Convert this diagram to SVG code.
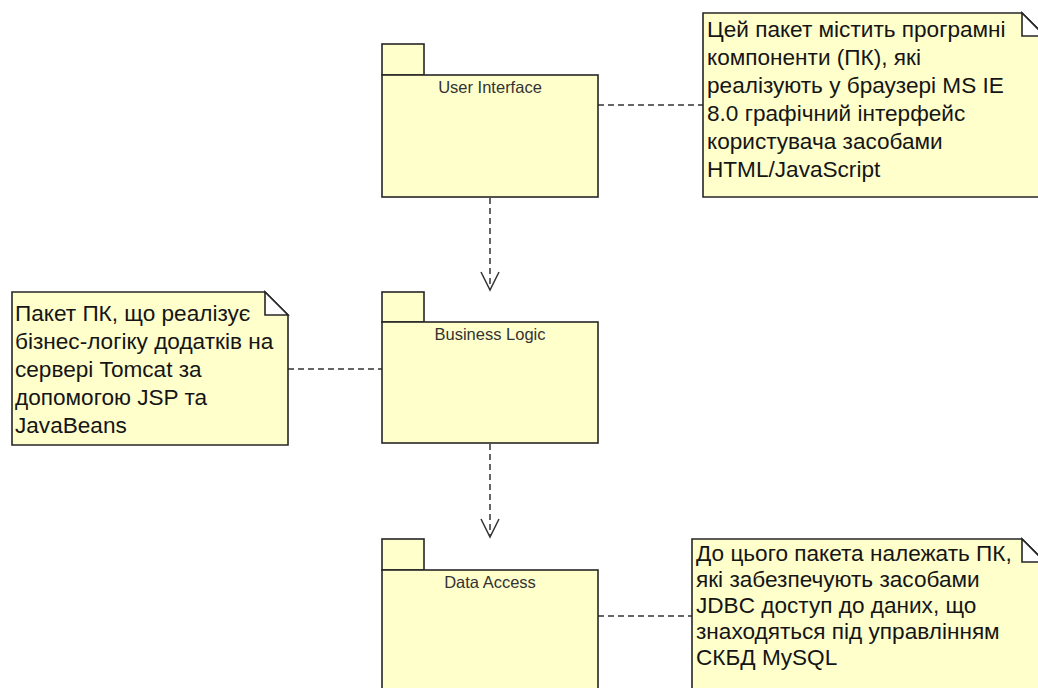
<svg xmlns="http://www.w3.org/2000/svg" width="1038" height="688" viewBox="0 0 1038 688">
  <style>
    .pkg { fill: #ffffcc; stroke: #262626; stroke-width: 1.6; }
    .note { fill: #ffffcc; stroke: #262626; stroke-width: 1.6; }
    .fold { fill: #ffffff; stroke: #262626; stroke-width: 1.6; stroke-linejoin: miter; }
    .pkg-label { font-family: "Liberation Sans", Arial, sans-serif; font-size: 16.5px; fill: #333333; text-anchor: middle; }
    .note-text { font-family: "Liberation Sans", Arial, sans-serif; font-size: 22.6px; fill: #151515; }
    .link { fill: none; stroke: #333333; stroke-width: 1.5; stroke-dasharray: 6 4; }
    .head { fill: none; stroke: #333333; stroke-width: 1.5; }
  </style>

  <rect width="1038" height="688" fill="#ffffff"/>

  <!-- connectors -->
  <g id="connectors">
    <line class="link" x1="598" y1="105" x2="703" y2="105"/>
    <line class="link" x1="288" y1="369" x2="382" y2="369"/>
    <line class="link" x1="598" y1="616" x2="692" y2="616"/>
    <line class="link" x1="490" y1="198" x2="490" y2="289"/>
    <polyline class="head" points="481,272 490,290 499,272"/>
    <line class="link" x1="490" y1="444" x2="490" y2="536"/>
    <polyline class="head" points="481,519 490,537 499,519"/>
  </g>

  <!-- packages -->
  <g id="pkg-user-interface">
    <rect class="pkg" x="382" y="44" width="42" height="31"/>
    <rect class="pkg" x="382" y="75" width="216" height="122"/>
    <text class="pkg-label" x="490" y="93">User Interface</text>
  </g>

  <g id="pkg-business-logic">
    <rect class="pkg" x="382" y="292" width="42" height="30"/>
    <rect class="pkg" x="382" y="322" width="216" height="121"/>
    <text class="pkg-label" x="490" y="340">Business Logic</text>
  </g>

  <g id="pkg-data-access">
    <rect class="pkg" x="382" y="539" width="42" height="31"/>
    <rect class="pkg" x="382" y="570" width="216" height="130"/>
    <text class="pkg-label" x="490" y="588">Data Access</text>
  </g>

  <!-- notes -->
  <g id="note-ui">
    <path class="note" d="M703,13 H1022 L1045,36 V197 H703 Z"/>
    <path class="fold" d="M1022,13 V36 H1045 Z"/>
    <text class="note-text">
      <tspan x="707" y="37">Цей пакет містить програмні</tspan>
      <tspan x="707" y="65">компоненти (ПК), які</tspan>
      <tspan x="707" y="93">реалізують у браузері MS IE</tspan>
      <tspan x="707" y="121">8.0 графічний інтерфейс</tspan>
      <tspan x="707" y="149">користувача засобами</tspan>
      <tspan x="707" y="177">HTML/JavaScript</tspan>
    </text>
  </g>

  <g id="note-bl">
    <path class="note" d="M12,292 H265 L288,315 V445 H12 Z"/>
    <path class="fold" d="M265,292 V315 H288 Z"/>
    <text class="note-text">
      <tspan x="15" y="321">Пакет ПК, що реалізує</tspan>
      <tspan x="15" y="349">бізнес-логіку додатків на</tspan>
      <tspan x="15" y="377">сервері Tomcat за</tspan>
      <tspan x="15" y="405">допомогою JSP та</tspan>
      <tspan x="15" y="433">JavaBeans</tspan>
    </text>
  </g>

  <g id="note-da">
    <path class="note" d="M692,539 H1022 L1045,562 V700 H692 Z"/>
    <path class="fold" d="M1022,539 V562 H1045 Z"/>
    <text class="note-text">
      <tspan x="696" y="561">До цього пакета належать ПК,</tspan>
      <tspan x="696" y="587">які забезпечують засобами</tspan>
      <tspan x="696" y="613">JDBC доступ до даних, що</tspan>
      <tspan x="696" y="639">знаходяться під управлінням</tspan>
      <tspan x="696" y="665">СКБД MySQL</tspan>
    </text>
  </g>
</svg>
